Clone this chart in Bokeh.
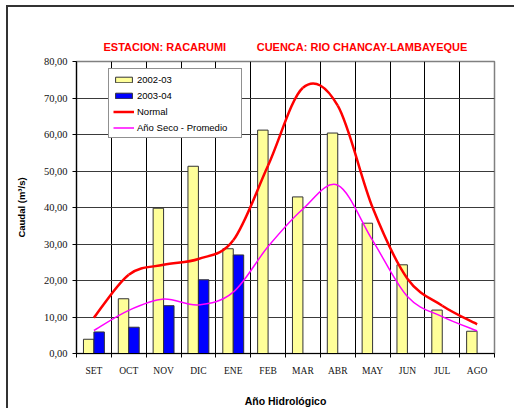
import numpy as np
from bokeh.plotting import figure
from bokeh.models import (ColumnDataSource, FixedTicker, Legend, LegendItem, Title,
                          Range1d)
from bokeh.transform import dodge
from bokeh.embed import file_html
from bokeh.resources import INLINE

# ---------------- data ----------------
months = ["SET", "OCT", "NOV", "DIC", "ENE", "FEB", "MAR", "ABR", "MAY", "JUN", "JUL", "AGO"]
q_2002_03 = [3.9, 15.0, 39.8, 51.3, 28.7, 61.2, 42.9, 60.4, 35.7, 24.3, 11.9, 6.1]
q_2003_04 = [5.9, 7.2, 13.1, 20.2, 27.0]          # only SET..ENE available
q_normal = [9.8, 21.6, 24.3, 25.9, 31.0, 51.5, 72.8, 67.9, 40.0, 20.5, 13.1, 8.0]
q_seco = [6.3, 11.8, 14.9, 13.3, 16.8, 29.3, 39.6, 46.1, 31.0, 15.6, 10.1, 6.2]
y_ticks = [0, 10, 20, 30, 40, 50, 60, 70, 80]
y_tick_labels = ["0,00", "10,00", "20,00", "30,00", "40,00", "50,00", "60,00", "70,00", "80,00"]

title_left = "ESTACION: RACARUMI"
title_right = "CUENCA: RIO CHANCAY-LAMBAYEQUE"
x_title = "Año Hidrológico"
y_title = "Caudal (m³/s)"

n = len(months)
centers = [i + 0.5 for i in range(n)]
bounds = list(range(n + 1))

src_a = ColumnDataSource(dict(x=centers, y=q_2002_03))
src_b = ColumnDataSource(dict(x=centers[:len(q_2003_04)], y=q_2003_04))
src_n = ColumnDataSource(dict(x=centers, y=q_normal))
src_s = ColumnDataSource(dict(x=centers, y=q_seco))


def smooth_segments(xs, ys):
    """Excel-like smoothed line: cubic Bezier segments through the data points."""
    xs = np.asarray(xs, float)
    ys = np.asarray(ys, float)
    m = len(xs)
    px = np.concatenate([[xs[0]], xs, [xs[-1]]])
    py = np.concatenate([[ys[0]], ys, [ys[-1]]])
    d = dict(x0=[], y0=[], x1=[], y1=[], cx0=[], cy0=[], cx1=[], cy1=[])
    for i in range(m - 1):
        k = i + 1
        d["x0"].append(px[k]); d["y0"].append(py[k])
        d["x1"].append(px[k + 1]); d["y1"].append(py[k + 1])
        d["cx0"].append(px[k] + (px[k + 1] - px[k - 1]) / 6.0)
        d["cy0"].append(py[k] + (py[k + 1] - py[k - 1]) / 6.0)
        d["cx1"].append(px[k + 1] - (px[k + 2] - px[k]) / 6.0)
        d["cy1"].append(py[k + 1] - (py[k + 2] - py[k]) / 6.0)
    return ColumnDataSource(d)


p = figure(frame_width=418, frame_height=292, output_backend="svg", toolbar_location=None,
           x_range=Range1d(0, n), y_range=Range1d(0, 80),
           min_border_left=68, min_border_right=20, min_border_top=54, min_border_bottom=50,
           title=None)
p.styles = {"border-top": "2px solid #333333", "border-left": "2px solid #333333",
            "margin-left": "6px", "margin-top": "5px"}

p.background_fill_color = "white"
p.border_fill_color = "white"
p.outline_line_color = "#808080"
p.outline_line_width = 1.5

# title (two red parts in one line)
gap = "\u00a0" * 10
p.add_layout(Title(text=title_left + gap + title_right, align="left", offset=27,
                   standoff=17, text_font="Liberation Sans", text_font_style="bold",
                   text_font_size="11px", text_color="#FF0000"), "above")

# grids
p.xgrid.ticker = FixedTicker(ticks=bounds)
p.xgrid.grid_line_color = "black"
p.xgrid.grid_line_width = 1
p.ygrid.ticker = FixedTicker(ticks=y_ticks)
p.ygrid.grid_line_color = "#3a3a3a"
p.ygrid.grid_line_width = 1.2

# x axis: labels at centres, ticks at category boundaries
xa = p.xaxis[0]
xa.ticker = FixedTicker(ticks=centers, minor_ticks=bounds)
xa.major_label_overrides = {c: m for c, m in zip(centers, months)}
xa.major_tick_out = 0
xa.major_tick_in = 0
xa.minor_tick_out = 4
xa.minor_tick_in = 0
xa.minor_tick_line_color = "black"
xa.axis_line_color = "black"
xa.axis_line_width = 1.2
xa.major_label_text_font = "Liberation Serif"
xa.major_label_text_font_size = "9.5px"
xa.major_label_text_color = "#111111"
xa.major_label_standoff = 8
xa.axis_label = x_title
xa.axis_label_text_font = "Liberation Sans"
xa.axis_label_text_font_style = "bold"
xa.axis_label_text_font_size = "10.5px"
xa.axis_label_standoff = 16
xa.axis_label_text_color = "black"

ya = p.yaxis[0]
ya.ticker = FixedTicker(ticks=y_ticks)
ya.major_label_overrides = {t: s for t, s in zip(y_ticks, y_tick_labels)}
ya.major_tick_out = 4
ya.major_tick_in = 0
ya.minor_tick_out = 0
ya.minor_tick_in = 0
ya.axis_line_color = "black"
ya.axis_line_width = 1.2
ya.major_label_text_font = "Liberation Serif"
ya.major_label_text_font_size = "10.5px"
ya.major_label_text_color = "#111111"
ya.major_label_standoff = 5
ya.axis_label = y_title
ya.axis_label_text_font = "Liberation Sans"
ya.axis_label_text_font_style = "bold"
ya.axis_label_text_font_size = "9.5px"
ya.axis_label_standoff = 14
ya.axis_label_text_color = "black"

# bars
bw = 0.3
r_a = p.vbar(x=dodge("x", -bw / 2, range=p.x_range), top="y", width=bw, source=src_a,
             fill_color="#FFFF99", line_color="#333333", line_width=1)
r_b = p.vbar(x=dodge("x", bw / 2, range=p.x_range), top="y", width=bw, source=src_b,
             fill_color="#0000FF", line_color="#333333", line_width=1)

# smoothed lines
p.bezier(x0="x0", y0="y0", x1="x1", y1="y1", cx0="cx0", cy0="cy0", cx1="cx1", cy1="cy1",
         source=smooth_segments(centers, q_normal), line_color="#FF0000", line_width=2.5)
p.bezier(x0="x0", y0="y0", x1="x1", y1="y1", cx0="cx0", cy0="cy0", cx1="cx1", cy1="cy1",
         source=smooth_segments(centers, q_seco), line_color="#FF00FF", line_width=1.5)

# legend proxies (not drawn in the plot, only used for the legend glyphs)
r_n = p.line(x="x", y="y", source=src_n, line_color="#FF0000", line_width=2.5, visible=False)
r_s = p.line(x="x", y="y", source=src_s, line_color="#FF00FF", line_width=1.5, visible=False)

legend = Legend(items=[LegendItem(label="2002-03", renderers=[r_a]),
                       LegendItem(label="2003-04", renderers=[r_b]),
                       LegendItem(label="Normal", renderers=[r_n]),
                       LegendItem(label="Año Seco - Promedio", renderers=[r_s])],
                location=(32, 215), orientation="vertical")
legend.label_text_font = "Liberation Sans"
legend.label_text_font_size = "9.5px"
legend.label_text_color = "black"
legend.glyph_width = 21
legend.glyph_height = 7
legend.label_height = 12
legend.label_width = 100
legend.label_standoff = 3
legend.spacing = 4
legend.padding = 4
legend.margin = 0
legend.border_line_color = "#222222"
legend.border_line_width = 1
legend.background_fill_color = "white"
legend.background_fill_alpha = 1
p.add_layout(legend, "center")

open("out.html", "w").write(file_html(p, INLINE))
